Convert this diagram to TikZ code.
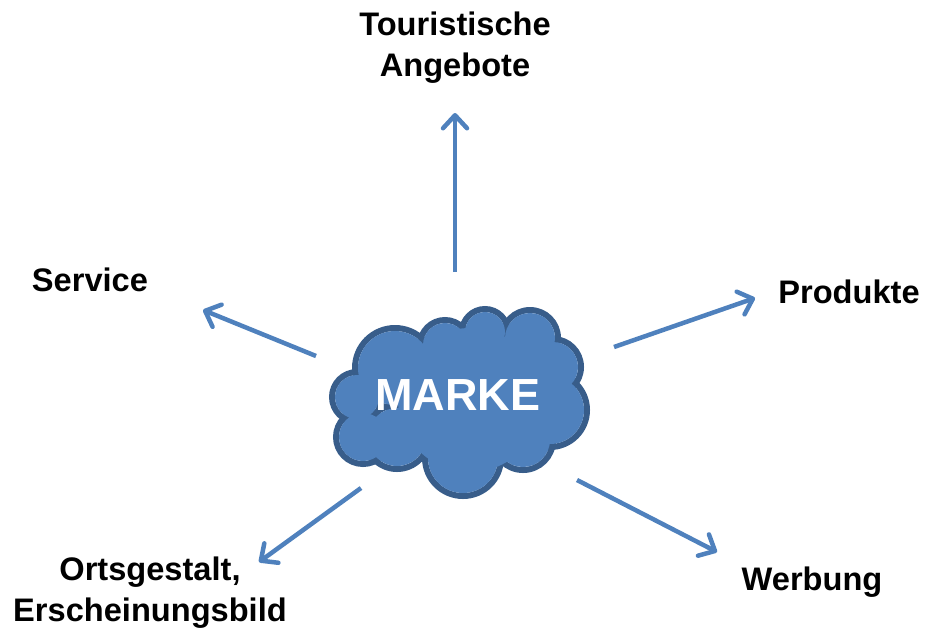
\documentclass[tikz,border=0pt]{standalone}
\usepackage{fontspec}
\setmainfont{Liberation Sans}
\usetikzlibrary{arrows.meta}
\begin{document}
\begin{tikzpicture}[x=1pt,y=-1pt,
  lbl/.style={font=\fontsize{32.6}{41}\selectfont\bfseries,align=center,inner sep=0pt},
  arr/.style={draw=blue1,line width=4.5pt,-{Straight Barb[length=13pt,width=24pt,round]}},
  puff/.style={draw=cloudedge,line width=6pt},
  pufffill/.style={fill=blue1}]
\definecolor{blue1}{HTML}{4F81BD}
\definecolor{cloudedge}{HTML}{385D8A}
\useasboundingbox (0,0) rectangle (925,630);
% cloud
\foreach \x/\y/\r in {357/397/25, 395/368/40, 445/345/25, 485/332/23, 530/338/28, 553/367/28, 550/410/37, 523/440/30, 463/458/38, 397/437/32, 363/437/27}{
  \path[puff] (\x,\y) circle[radius=\r];
}
\foreach \x/\y/\r in {357/397/25, 395/368/40, 445/345/25, 485/332/23, 530/338/28, 553/367/28, 550/410/37, 523/440/30, 463/458/38, 397/437/32, 363/437/27}{
  \path[pufffill] (\x,\y) circle[radius=\r-3];
}
\path[pufffill] (470,400) circle[radius=72];
\node[font=\fontsize{45}{50}\selectfont\bfseries,text=white] (marke) at (458,395) {MARKE};
% labels
\node[lbl] (tour) at (455,48) {Touristische\\Angebote};
\node[lbl] (serv) at (90,280) {Service};
\node[lbl] (prod) at (849,292) {Produkte};
\node[lbl] (orts) at (150,593) {Ortsgestalt,\\Erscheinungsbild};
\node[lbl] (werb) at (812,582) {Werbung};
% arrow coordinates
\coordinate (a1s) at (455,272); \coordinate (a1e) at (455,113);
\coordinate (a2s) at (316,356); \coordinate (a2e) at (203,310);
\coordinate (a3s) at (614,347); \coordinate (a3e) at (755,298);
\coordinate (a4s) at (361,488); \coordinate (a4e) at (259,562);
\coordinate (a5s) at (577,480); \coordinate (a5e) at (717,552);
\foreach \i in {1,...,5}{\draw[arr] (a\i s) -- (a\i e);}
\end{tikzpicture}
\end{document}
